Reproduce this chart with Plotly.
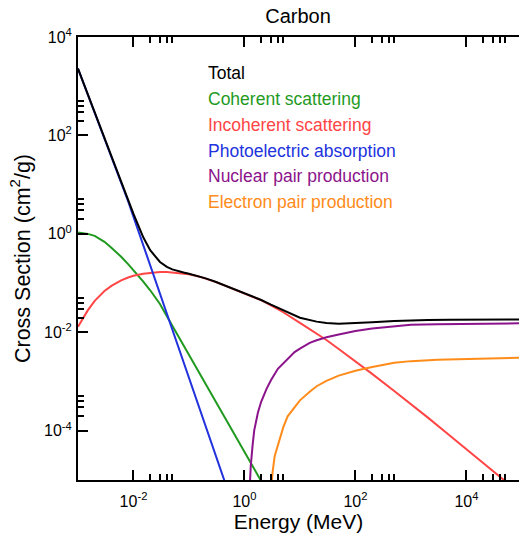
import plotly.graph_objects as go

# ---------------- data (cm^2/g vs MeV) ----------------
energy = [0.001, 0.0015, 0.002, 0.003, 0.004, 0.005, 0.006, 0.008, 0.01, 0.015,
          0.02, 0.03, 0.04, 0.05, 0.06, 0.08, 0.1, 0.15, 0.2, 0.3, 0.4, 0.5, 0.6,
          0.8, 1, 1.5, 2, 3, 5, 10, 20, 30, 50, 100, 200, 500, 1000, 2000, 5000,
          10000, 20000, 50000, 100000]
total = [2281, 688, 292, 87.7, 37.2, 19.3, 11.4, 4.97, 2.54, 0.853, 0.466, 0.2685,
         0.2134, 0.1897, 0.178, 0.1639, 0.1554, 0.1387, 0.125, 0.1066, 0.0933,
         0.0843, 0.0778, 0.0685, 0.0618, 0.0522, 0.0454, 0.0364, 0.0281, 0.0198,
         0.0165, 0.0155, 0.0149, 0.0152, 0.016, 0.0169, 0.0175, 0.0178, 0.018,
         0.0181, 0.0182, 0.0183, 0.0183]
incoherent = [0.013, 0.0279, 0.0436, 0.069, 0.088, 0.102, 0.1135, 0.130, 0.1406,
              0.155, 0.1626, 0.169, 0.168, 0.1644, 0.162, 0.156, 0.1507, 0.1368,
              0.124, 0.1062, 0.0931, 0.0841, 0.0777, 0.0684, 0.0618, 0.0521, 0.045,
              0.0353, 0.0256, 0.0155, 0.00938, 0.0070, 0.00458, 0.00257, 0.00143,
              6.43e-4, 3.52e-4, 1.87e-4, 8.04e-5, 4.24e-5, 2.23e-5, 9.6e-6, 5.0e-6]

energy_coh = [0.001, 0.0015, 0.002, 0.003, 0.004, 0.005, 0.006, 0.008, 0.01, 0.015,
              0.02, 0.03, 0.04, 0.05, 0.06, 0.08, 0.1, 0.15, 0.2, 0.3, 0.5, 1, 2, 3, 5]
coherent = [1.07, 1.0, 0.91, 0.69, 0.525, 0.417, 0.343, 0.243, 0.183, 0.107, 0.0716,
            0.0377, 0.0212, 0.0136, 0.0095, 0.0054, 0.00348, 0.00156, 8.87e-4,
            3.99e-4, 1.46e-4, 3.72e-5, 9.5e-6, 4.3e-6, 1.56e-6]

energy_pe = [0.001, 0.0015, 0.002, 0.003, 0.004, 0.005, 0.006, 0.008, 0.01, 0.015,
             0.02, 0.03, 0.04, 0.05, 0.06, 0.08, 0.1, 0.15, 0.2, 0.3, 0.4, 0.5, 0.6]
photoelectric = [2280, 687, 291, 86.9, 36.6, 18.8, 10.96, 4.6, 2.22, 0.591, 0.232,
                 0.0618, 0.0242, 0.01167, 0.00643, 0.0025, 0.0012, 3.2e-4, 1.25e-4,
                 3.31e-5, 1.29e-5, 6.2e-6, 3.4e-6]

energy_np = [1.2, 1.3, 1.4, 1.5, 1.75, 2, 2.5, 3, 4, 5, 6, 8, 10, 15, 20, 30, 50,
             100, 200, 500, 1000, 3000, 10000, 100000]
nuclear_pair = [3e-6, 1.95e-5, 5.0e-5, 1.02e-4, 2.35e-4, 3.88e-4, 7.1e-4, 1.06e-3,
                1.82e-3, 2.35e-3, 2.88e-3, 3.97e-3, 4.65e-3, 6.1e-3, 6.9e-3, 7.93e-3,
                9.0e-3, 0.01067, 0.012, 0.01346, 0.01422, 0.01462, 0.01483, 0.01524]

energy_ep = [2.9, 3.2, 3.5, 4, 5, 6, 8, 10, 15, 20, 30, 50, 100, 200, 500, 1000,
             3000, 10000, 100000]
electron_pair = [3e-6, 1.4e-5, 3.03e-5, 5.28e-5, 1.17e-4, 1.97e-4, 3.03e-4, 4.15e-4,
                 6.19e-4, 8.04e-4, 1.03e-3, 1.32e-3, 1.66e-3, 1.98e-3, 2.4e-3, 2.6e-3,
                 2.77e-3, 2.9e-3, 3.05e-3]

series_names = ["Total", "Coherent scattering", "Incoherent scattering",
                "Photoelectric absorption", "Nuclear pair production",
                "Electron pair production"]
series_colors = ["#000000", "#1f9a1f", "#ff4545", "#2233dd", "#8b138b", "#ff8c1a"]

# ticks
x_major = [1e-2, 1, 1e2, 1e4]
x_major_text = ["10<sup>-2</sup>", "10<sup>0</sup>", "10<sup>2</sup>", "10<sup>4</sup>"]
x_minor = [2e-2, 3e-2, 4e-2, 5e-2, 2, 3, 4, 5, 2e2, 3e2, 4e2, 5e2, 2e4, 3e4, 4e4, 5e4]
y_major = [1e-4, 1e-2, 1, 1e2, 1e4]
y_major_text = ["10<sup>-4</sup>", "10<sup>-2</sup>", "10<sup>0</sup>",
                "10<sup>2</sup>", "10<sup>4</sup>"]
y_minor = [2e-4, 3e-4, 4e-4, 5e-4, 2e-2, 3e-2, 4e-2, 5e-2, 2, 3, 4, 5,
           2e2, 3e2, 4e2, 5e2]

FONT = "Liberation Sans, Arial, Helvetica, sans-serif"

W, H = 519, 533
L, T, B = 78, 37, 53
plot_top, plot_bottom = T, H - B

fig = go.Figure()
curves = [
    (energy_coh, coherent, 1),
    (energy, incoherent, 2),
    (energy_pe, photoelectric, 3),
    (energy_np, nuclear_pair, 4),
    (energy_ep, electron_pair, 5),
    (energy, total, 0),
]
for xs, ys, idx in curves:
    fig.add_trace(go.Scatter(x=xs, y=ys, mode="lines", name=series_names[idx],
                             line=dict(color=series_colors[idx], width=2),
                             showlegend=False))

# text-only legend (pixel rows of each entry)
legend_y_px = [73, 99, 125, 150.5, 176, 201.5]
for name, col, ypx in zip(series_names, series_colors, legend_y_px):
    fig.add_annotation(x=(206 - L) / (W - L),
                       y=(plot_bottom - ypx) / (plot_bottom - plot_top),
                       xref="paper", yref="paper", xanchor="left", yanchor="middle",
                       text=name, showarrow=False,
                       font=dict(family=FONT, size=17.5, color=col))

axis_common = dict(type="log", showgrid=False, zeroline=False, ticks="inside",
                   tickwidth=1.8, ticklen=10, tickcolor="black", automargin=False,
                   tickfont=dict(family=FONT, size=16, color="black"))

fig.update_layout(
    width=W, height=H,
    margin=dict(l=L, r=0, t=T, b=B, autoexpand=False),
    paper_bgcolor="white", plot_bgcolor="white",
    font=dict(family=FONT, color="black"),
    title=dict(text="Carbon", x=298 / W, xanchor="center", y=1 - 16 / H,
               yanchor="middle", automargin=False,
               font=dict(family=FONT, size=20, color="black")),
    xaxis=dict(range=[-3, 4.948], tickmode="array", tickvals=x_major,
               ticktext=x_major_text, showline=True, mirror="allticks",
               linecolor="black", linewidth=2, ticklabelstandoff=6,
               minor=dict(tickmode="array", tickvals=x_minor, ticks="inside",
                          ticklen=6, tickwidth=1.8, tickcolor="black"),
               title=dict(text="Energy (MeV)", standoff=4,
                          font=dict(family=FONT, size=21, color="black")),
               **axis_common),
    yaxis=dict(range=[-5, 4], tickmode="array", tickvals=y_major,
               ticktext=y_major_text, showline=True, mirror=False,
               linecolor="black", linewidth=2, ticklabelstandoff=1,
               minor=dict(tickmode="array", tickvals=y_minor, ticks="inside",
                          ticklen=6, tickwidth=1.8, tickcolor="black"),
               title=dict(text="Cross Section (cm<sup>2</sup>/g)", standoff=8,
                          font=dict(family=FONT, size=21.5, color="black")),
               **axis_common),
    yaxis2=dict(overlaying="y", side="right", anchor="x", range=[-5, 4],
                tickmode="array", tickvals=y_major, showticklabels=False,
                showline=False,
                minor=dict(tickmode="array", tickvals=y_minor, ticks="inside",
                           ticklen=6, tickwidth=1.8, tickcolor="black"),
                **axis_common),
)

# remove the browser's default 8px body margin so the figure fills the window
fig.write_html("out.html", config={"displayModeBar": False},
               post_script="document.body.style.margin='0';")
